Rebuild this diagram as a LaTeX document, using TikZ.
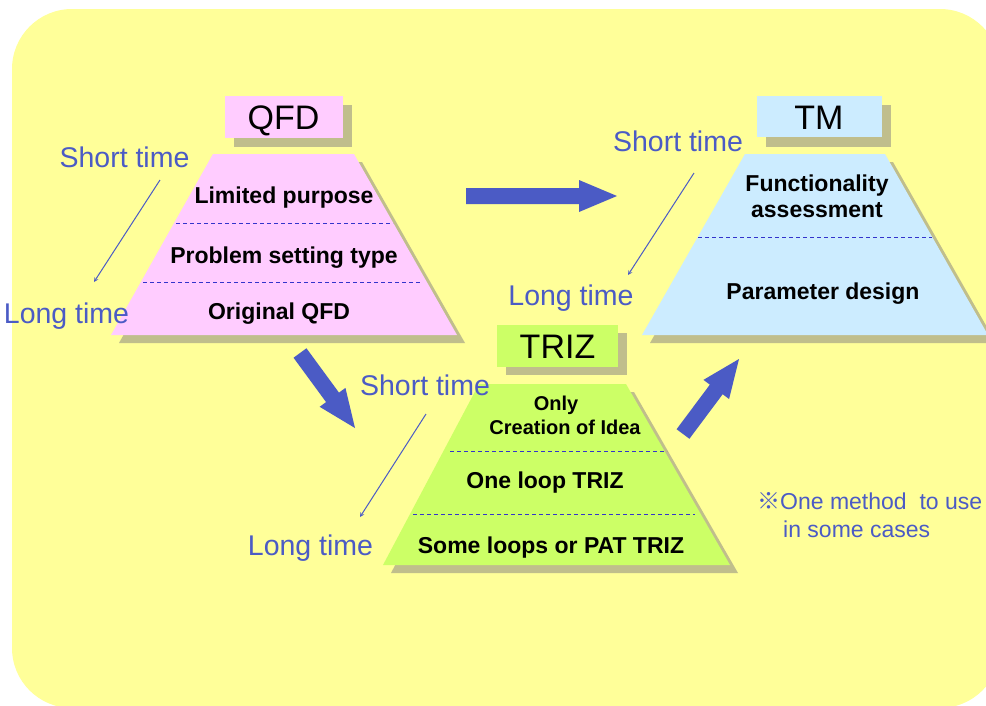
\documentclass[tikz,border=0pt]{standalone}
\usepackage{fontspec}
\setmainfont{Liberation Sans}
\newfontfamily\symfont{Noto Sans CJK SC}
\usetikzlibrary{calc}

\definecolor{bgyellow}{HTML}{FFFF99}
\definecolor{qfdpink}{HTML}{FFCCFF}
\definecolor{tmblue}{HTML}{CCECFF}
\definecolor{trizgreen}{HTML}{CCFF66}
\definecolor{shade}{HTML}{C0BE8C}
\definecolor{labelblue}{HTML}{4B5BC5}
\definecolor{dashblue}{HTML}{3333CC}

\tikzset{
  shadowbox/.style={fill=shade},
  layerline/.style={draw=dashblue, line width=1pt, dash pattern=on 4pt off 3pt},
  timelabel/.style={text=labelblue, font=\fontsize{28.5}{32}\selectfont, inner sep=0pt, anchor=base},
  titletext/.style={font=\fontsize{34}{38}\selectfont, inner sep=0pt, anchor=base},
  itemtext/.style={font=\bfseries\fontsize{23}{27}\selectfont, inner sep=0pt, anchor=base},
  smallitem/.style={font=\bfseries\fontsize{20}{24}\selectfont, inner sep=0pt, anchor=base},
  notetext/.style={text=labelblue, font=\fontsize{23}{27}\selectfont, inner sep=0pt, anchor=base west},
  timearrow/.style={draw=labelblue, line width=1pt, -{stealth}, shorten >=0pt},
}

% wide block arrow from #1 to #2 (shaft 16pt, head 32pt wide, 38pt long)
\newcommand\blockarrow[2]{%
  \coordinate (ba-h) at ($(#2)!38pt!(#1)$);
  \fill[labelblue] ($(#1)!8pt!90:(#2)$) -- ($(ba-h)!8pt!90:(#2)$)
    -- ($(ba-h)!16pt!90:(#2)$) -- (#2) -- ($(ba-h)!16pt!-90:(#2)$)
    -- ($(ba-h)!8pt!-90:(#2)$) -- ($(#1)!8pt!-90:(#2)$) -- cycle;
}

\begin{document}
\begin{tikzpicture}[x=1pt, y=-1pt]
\useasboundingbox (0,0) rectangle (986,705);

% background panel
\fill[bgyellow, rounded corners=60pt] (12,9) rectangle (1000,708);

% ---------------- QFD ----------------
\fill[shadowbox] (234,105) rectangle (352,147);
\fill[qfdpink] (225,96) rectangle (343,138);
\node[titletext] (qfd) at (283.5,129) {QFD};
\fill[shadowbox] (221,162) -- (362,162) -- (465,343) -- (119,343) -- cycle;
\fill[qfdpink] (213,154) -- (354,154) -- (457,335) -- (111,335) -- cycle;
\draw[layerline] (176,223) -- (393,223);
\draw[layerline] (143,282) -- (422,282);
\node[itemtext] (qfd1) at (284,203) {Limited purpose};
\node[itemtext] (qfd2) at (284,263) {Problem setting type};
\node[itemtext] (qfd3) at (279,319) {Original QFD};

% ---------------- TM ----------------
\fill[shadowbox] (766,105) rectangle (891,147);
\fill[tmblue] (757,96) rectangle (882,137);
\node[titletext] (tm) at (819,129) {TM};
\fill[shadowbox] (753,162) -- (893,162) -- (996,343) -- (650,343) -- cycle;
\fill[tmblue] (745,154) -- (885,154) -- (988,335) -- (642,335) -- cycle;
\draw[layerline] (698,237) -- (932,237);
\node[itemtext] (tm1) at (817,191) {Functionality};
\node[itemtext] (tm2) at (817,217) {assessment};
\node[itemtext] (tm3) at (823,299) {Parameter design};

% ---------------- TRIZ ----------------
\fill[shadowbox] (506,333) rectangle (627,375);
\fill[trizgreen] (497,325) rectangle (618,367);
\node[titletext] (triz) at (557.5,358) {TRIZ};
\fill[shadowbox] (487,392) -- (634,392) -- (738,573) -- (391,573) -- cycle;
\fill[trizgreen] (479,384) -- (626,384) -- (730,565) -- (383,565) -- cycle;
\draw[layerline] (450,451) -- (667,451);
\draw[layerline] (413,514) -- (695,514);
\node[smallitem] (triz1a) at (556,410) {Only};
\node[smallitem] (triz1b) at (565,434) {Creation of Idea};
\node[itemtext] (triz2) at (545,488) {One loop TRIZ};
\node[itemtext] (triz3) at (551,553) {Some loops or PAT TRIZ};

% ---------------- time scales ----------------
\node[timelabel] (qfdshort) at (124.5,167) {Short time};
\node[timelabel] (qfdlong) at (66.5,323) {Long time};
\coordinate (qfdA) at (160,180);
\coordinate (qfdB) at (94,282);
\draw[timearrow] (qfdA) -- (qfdB);

\node[timelabel] (tmshort) at (678,151) {Short time};
\node[timelabel] (tmlong) at (571,305) {Long time};
\coordinate (tmA) at (694,173);
\coordinate (tmB) at (628,275);
\draw[timearrow] (tmA) -- (tmB);

\node[timelabel] (trizshort) at (425,395) {Short time};
\node[timelabel] (trizlong) at (310.5,555) {Long time};
\coordinate (trizA) at (426,414);
\coordinate (trizB) at (360,517);
\draw[timearrow] (trizA) -- (trizB);

% ---------------- flow between methods ----------------
\coordinate (qfdout) at (466,196);
\coordinate (tmin) at (617,196);
\blockarrow{qfdout}{tmin}
\coordinate (qfddown) at (300,353);
\coordinate (trizin) at (355,428);
\blockarrow{qfddown}{trizin}
\coordinate (trizout) at (683,434);
\coordinate (tmup) at (739,359);
\blockarrow{trizout}{tmup}

% ---------------- note ----------------
\node[notetext] (note1) at (757,509) {{\symfont ※}One method\ \ to use};
\node[notetext] (note2) at (783,537) {in some cases};
\end{tikzpicture}
\end{document}
